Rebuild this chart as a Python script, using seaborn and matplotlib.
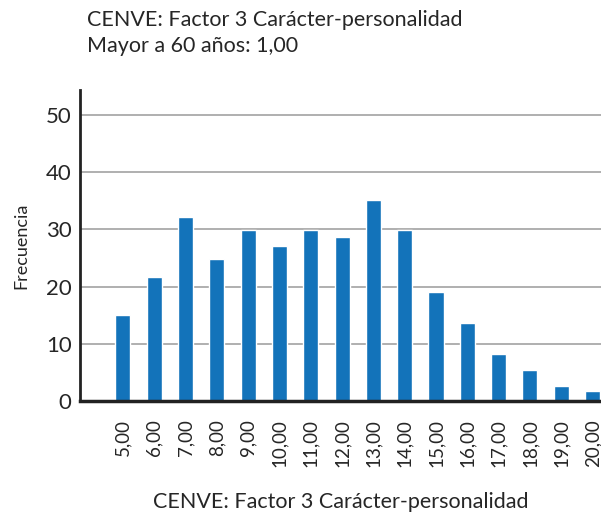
import numpy as np
import pandas as pd
import matplotlib
matplotlib.use("Agg")
import matplotlib.pyplot as plt
import seaborn as sns

puntajes = ["5,00", "6,00", "7,00", "8,00", "9,00", "10,00", "11,00", "12,00",
            "13,00", "14,00", "15,00", "16,00", "17,00", "18,00", "19,00", "20,00"]
frecuencia = [15.0, 21.7, 32.2, 24.9, 29.9, 27.1, 29.9, 28.6,
              35.1, 29.9, 19.0, 13.6, 8.2, 5.4, 2.6, 1.7]
y_ticks = [0, 10, 20, 30, 40, 50]

sns.set_style("white")
plt.rcParams['font.family'] = ['Lato', 'DejaVu Sans']

df = pd.DataFrame({"puntaje": puntajes, "frecuencia": frecuencia})

fig = plt.figure(figsize=(6.01, 5.13), dpi=100)
ax = fig.add_axes([80 / 601, 1 - 401 / 513, 1 - 80 / 601, (401 - 90) / 513])

sns.barplot(data=df, x="puntaje", y="frecuencia", color="#1373ba",
            saturation=1, width=0.48, ax=ax, zorder=3)

ax.set_xlim(-1.37, 15.27)
ax.set_ylim(0, 54.4)
ax.set_yticks(y_ticks)
ax.yaxis.grid(True, color="#9a9a9a", linewidth=1.1, zorder=0)
ax.set_axisbelow(True)

ax.tick_params(axis="y", direction="in", length=19, width=2.4, color="#222222",
               labelsize=16, pad=6)
ax.tick_params(axis="x", length=0, labelsize=13.5, rotation=90, pad=13)

for s in ["top", "right"]:
    ax.spines[s].set_visible(False)
ax.spines["left"].set_linewidth(2)
ax.spines["left"].set_color("#222222")
ax.spines["bottom"].set_linewidth(2.5)
ax.spines["bottom"].set_color("#222222")
ax.spines["bottom"].set_zorder(5)

ax.set_ylabel("Frecuencia", fontsize=13, labelpad=12)
ax.set_xlabel("CENVE: Factor 3 Carácter-personalidad", fontsize=15.5, labelpad=18)

fig.text(87 / 601, 1 - 20 / 513, "CENVE: Factor 3 Carácter-personalidad",
         fontsize=15.5, va="center", ha="left")
fig.text(87 / 601, 1 - 46 / 513, "Mayor a 60 años: 1,00",
         fontsize=15.5, va="center", ha="left")

fig.savefig("out.png", dpi=100)
